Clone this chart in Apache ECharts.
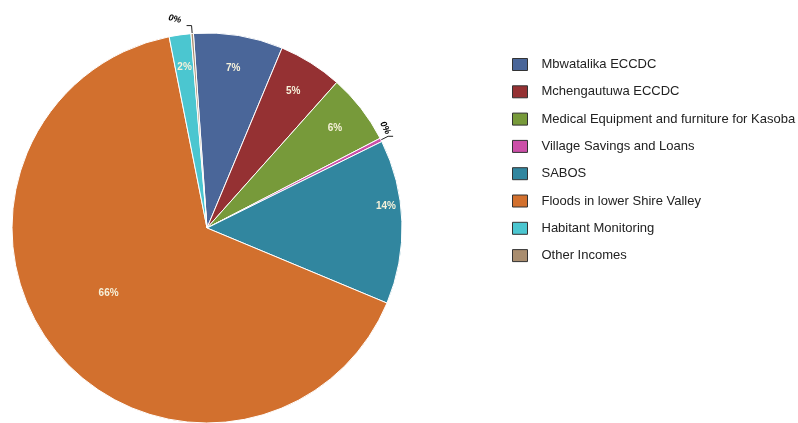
<!DOCTYPE html>
<html>
<head>
<meta charset="utf-8">
<script src="https://cdn.jsdelivr.net/npm/echarts@6/dist/echarts.min.js"></script>
<style>html,body{margin:0;padding:0;background:#fff}#c{width:798px;height:423px}</style>
</head>
<body>
<div id="c"></div>
<script>
const categories = ['Mbwatalika ECCDC','Mchengautuwa ECCDC','Medical Equipment and furniture for Kasoba','Village Savings and Loans','SABOS','Floods in lower Shire Valley','Habitant Monitoring','Other Incomes'];
const values = [7.4, 5.3, 5.8, 0.3, 13.6, 65.6, 1.8, 0.2];
const colors = ['#4a6699','#953133','#779a3a','#cc4fa8','#31869f','#d2702e','#4bc6d0','#a98d6f'];

const chart = echarts.init(document.getElementById('c'));
const center = [207, 228];
const R = 195;

const mainData = categories.map((n, i) => ({ name: n, value: values[i], itemStyle: { color: colors[i] } }));
const labelData = categories.map((n, i) => {
  const small = values[i] < 1;
  const d = { name: n, value: values[i] };
  if (small) {
    d.label = { position: 'outside', color: '#000', fontWeight: 'bold', fontStyle: 'italic', fontSize: 9,
      rotate: i === 3 ? -62 : -12, offset: i === 3 ? [-20, 7.5] : [-1.5, -5] };
    d.labelLine = { show: true, length: 8, length2: 5, lineStyle: { color: '#222', width: 1 } };
  }
  if (n === 'Floods in lower Shire Valley') d.label = { offset: [27, -37] };
  if (n === 'SABOS') d.label = { offset: [17, -17] };
  return d;
});

chart.setOption({
  animation: false,
  legend: {
    orient: 'vertical',
    left: 507,
    top: 53,
    itemWidth: 15,
    itemHeight: 12,
    itemGap: 14.3,
    icon: 'rect',
    itemStyle: { borderColor: '#333', borderWidth: 1 },
    textStyle: { fontFamily: 'Liberation Sans', fontSize: 13, color: '#222', padding: [0, 0, 0, 9] },
    data: categories
  },
  series: [
    {
      type: 'pie',
      center: center,
      radius: R,
      startAngle: 94,
      clockwise: true,
      silent: true,
      label: { show: false },
      labelLine: { show: false },
      itemStyle: { borderColor: '#fff', borderWidth: 1 },
      data: mainData
    },
    {
      type: 'pie',
      center: center,
      radius: [123, R],
      startAngle: 94,
      clockwise: true,
      silent: true,
      itemStyle: { color: 'rgba(0,0,0,0)' },
      label: {
        show: true,
        position: 'inside',
        color: '#f6f1da',
        fontWeight: 'bold',
        fontSize: 10,
        fontFamily: 'Liberation Sans',
        formatter: p => Math.round(p.percent) + '%'
      },
      labelLine: { show: false },
      data: labelData
    }
  ]
});
</script>
</body>
</html>
